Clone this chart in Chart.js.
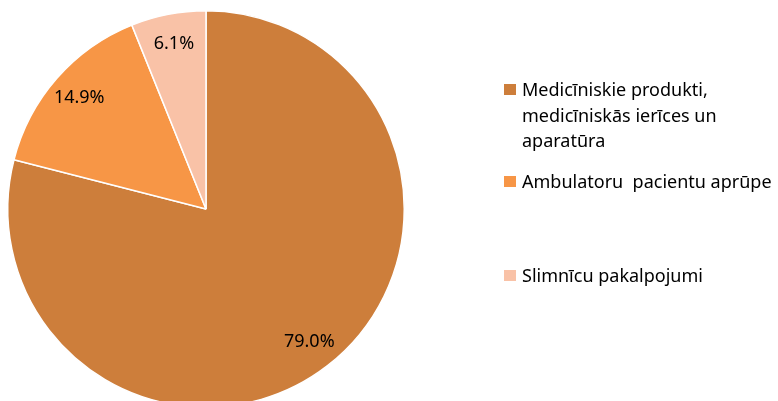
<!DOCTYPE html>
<html>
<head>
<meta charset="utf-8">
<script src="https://cdn.jsdelivr.net/npm/chart.js@4.4.1/dist/chart.umd.min.js"></script>
<style>
  html, body { margin: 0; padding: 0; background: #fff; width: 778px; height: 401px; overflow: hidden; }
  canvas { display: block; }
</style>
</head>
<body>
<canvas id="pie" width="778" height="420"></canvas>
<script>
/* Izdevumu struktūra: sektoru diagramma ar procentiem un leģendu labajā pusē */

const CATEGORIES = [
  ["Medicīniskie produkti,", "medicīniskās ierīces un", "aparatūra"],
  ["Ambulatoru  pacientu aprūpe"],
  ["Slimnīcu pakalpojumi"],
];
const SHARES = [79.0, 14.9, 6.1];
const COLORS = ["#CD7E3B", "#F79646", "#F9C2A7"];

const FONT = "'Noto Sans', 'DejaVu Sans', sans-serif";

// procenti sektoru iekšpusē, ~0.85 rādiusa attālumā
const pctLabels = {
  id: "pctLabels",
  afterDatasetsDraw(chart) {
    const ctx = chart.ctx;
    const meta = chart.getDatasetMeta(0);
    ctx.save();
    ctx.font = `18px ${FONT}`;
    ctx.fillStyle = "#000";
    ctx.textAlign = "center";
    ctx.textBaseline = "middle";
    meta.data.forEach((arc, i) => {
      const mid = (arc.startAngle + arc.endAngle) / 2;
      const r = arc.outerRadius * 0.85;
      ctx.fillText(SHARES[i].toFixed(1) + "%", arc.x + Math.cos(mid) * r, arc.y + Math.sin(mid) * r);
    });
    ctx.restore();
  },
};

// leģenda: kvadrāts + (vairākrindu) nosaukums
const sideLegend = {
  id: "sideLegend",
  afterDraw(chart) {
    const ctx = chart.ctx;
    const x = 504;
    const tops = [96, 188, 282];
    ctx.save();
    ctx.font = `18px ${FONT}`;
    ctx.textBaseline = "alphabetic";
    ctx.textAlign = "left";
    CATEGORIES.forEach((lines, i) => {
      const base = tops[i];
      ctx.fillStyle = COLORS[i];
      ctx.fillRect(x, base - 12, 12, 11);
      ctx.fillStyle = "#000";
      lines.forEach((s, j) => ctx.fillText(s, x + 18, base + j * 25.5));
    });
    ctx.restore();
  },
};

new Chart(document.getElementById("pie"), {
  type: "pie",
  data: {
    labels: CATEGORIES,
    datasets: [
      {
        data: SHARES,
        backgroundColor: COLORS,
        borderColor: "#fff",
        borderWidth: 1.5,
      },
    ],
  },
  options: {
    responsive: false,
    animation: false,
    layout: { padding: { left: 7, top: 10, right: 373, bottom: 12 } },
    plugins: {
      legend: { display: false },
      tooltip: { enabled: false },
    },
  },
  plugins: [pctLabels, sideLegend],
});
</script>
</body>
</html>
